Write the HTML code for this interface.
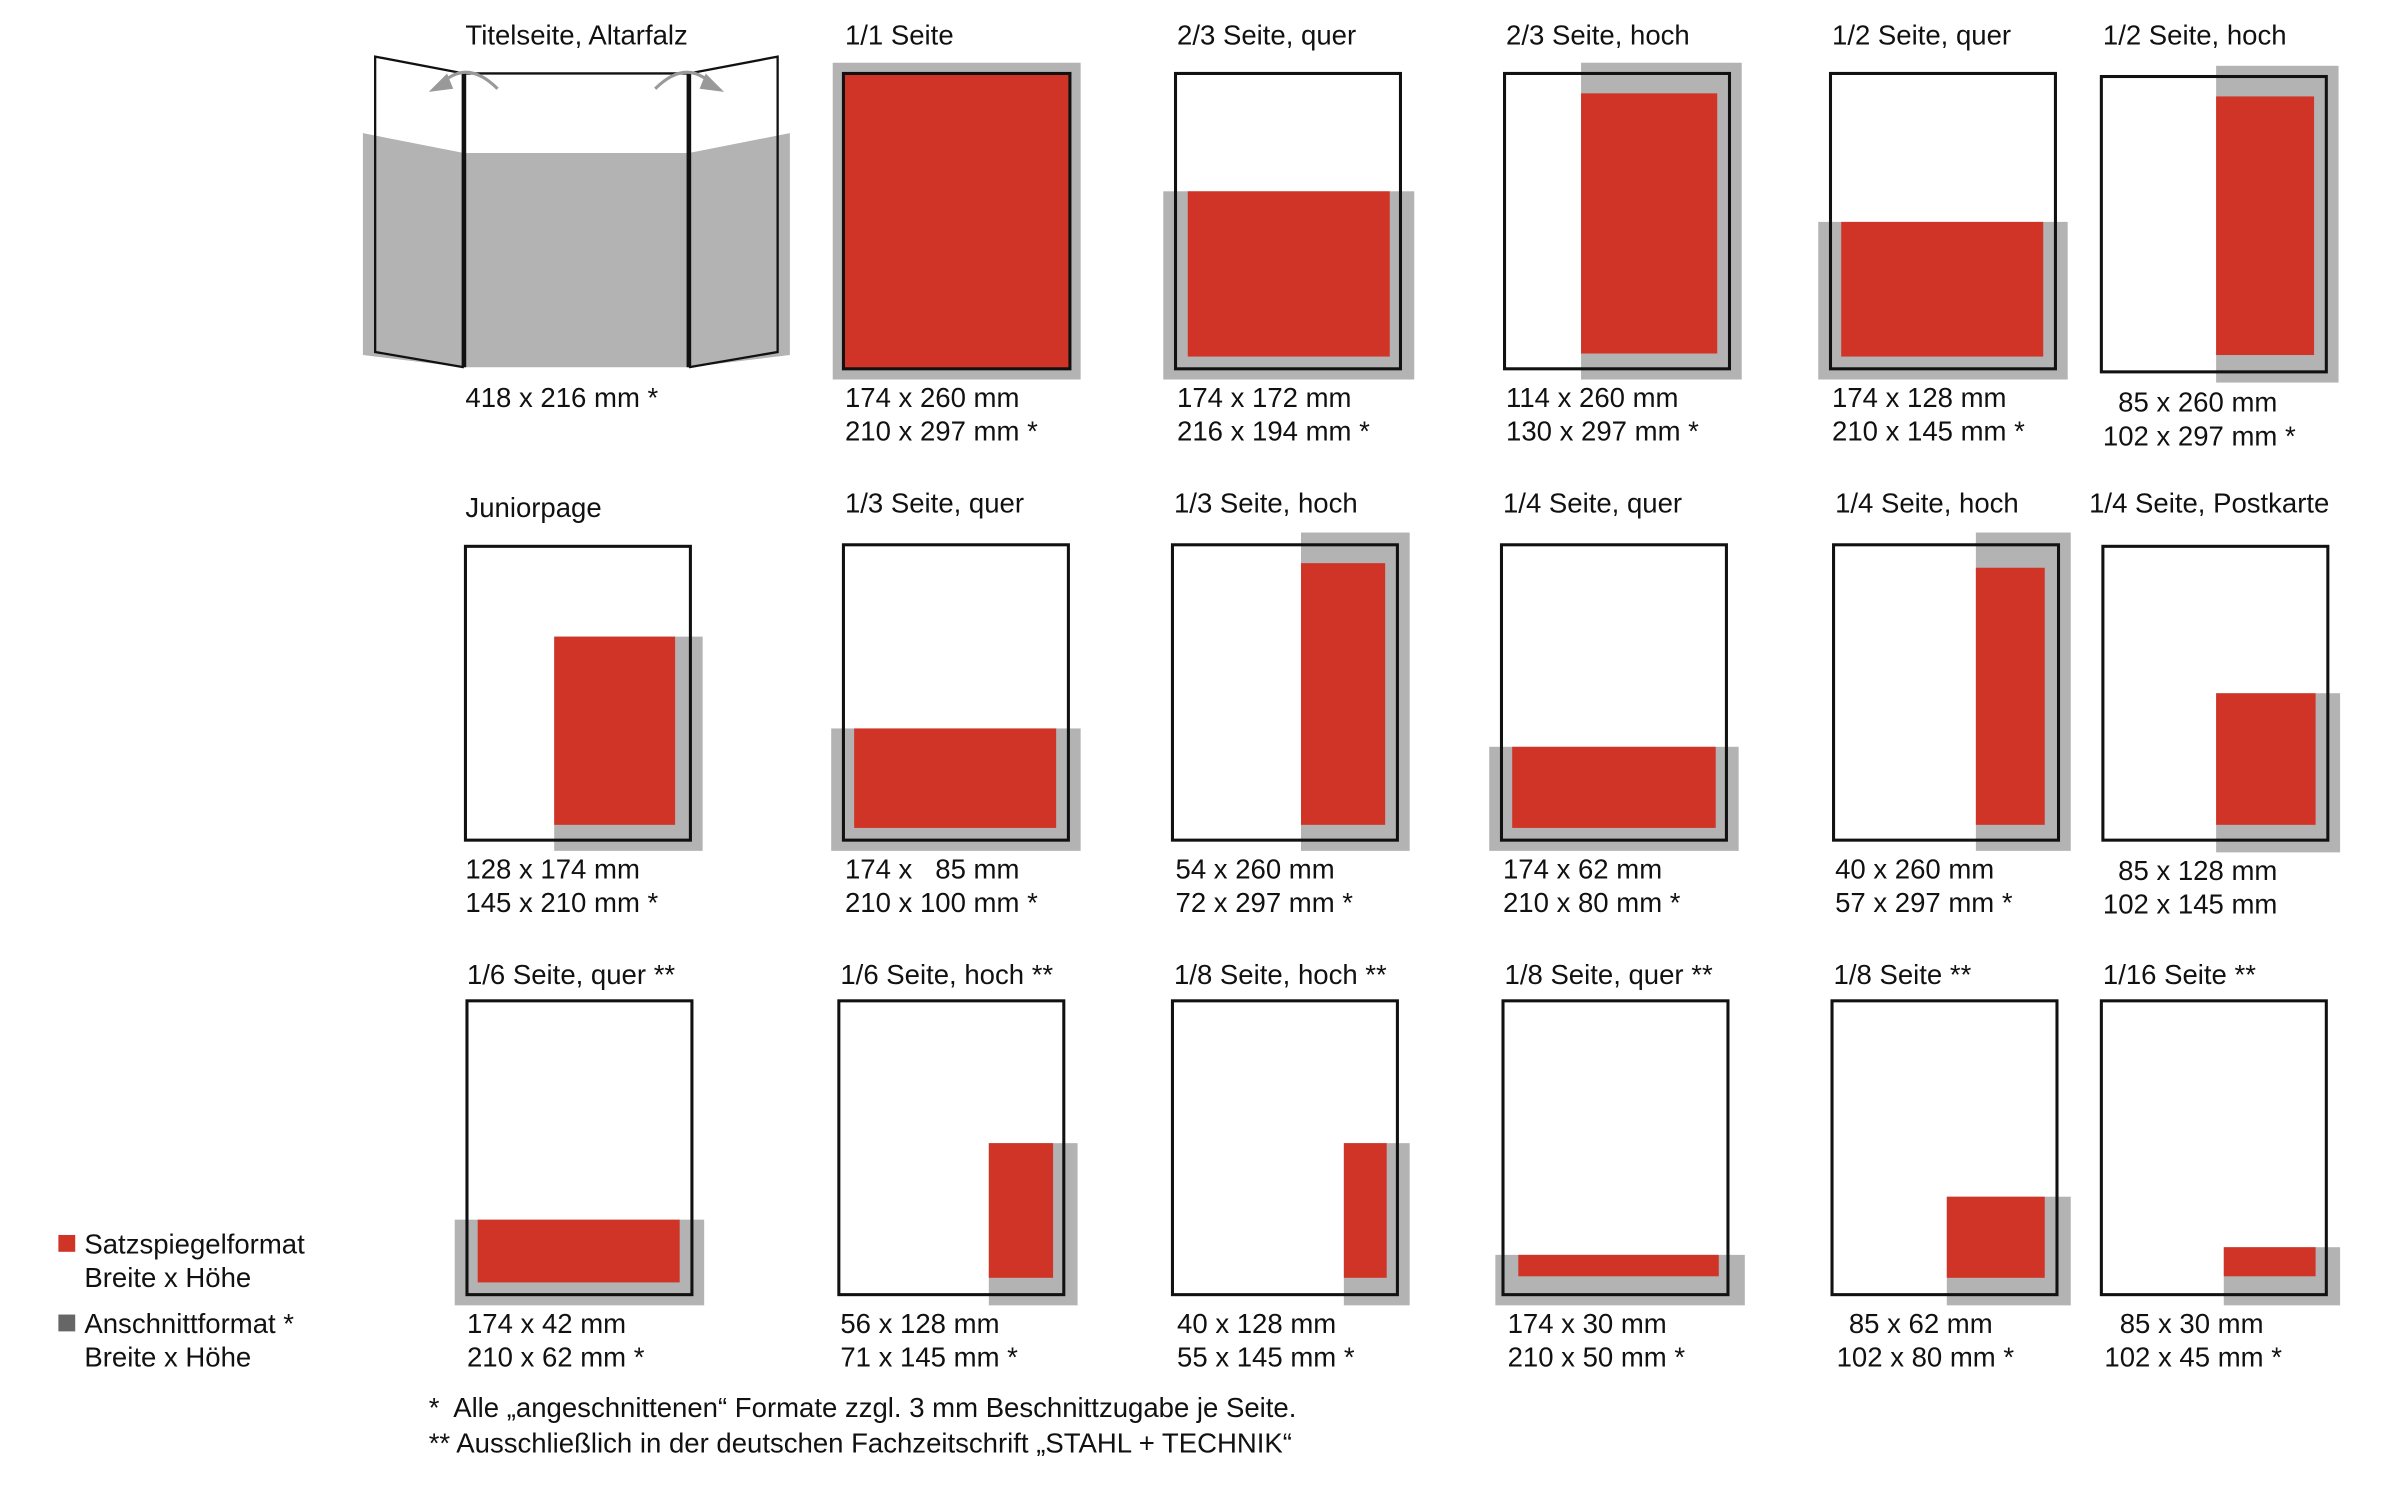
<!DOCTYPE html>
<html><head><meta charset="utf-8"><style>
html,body{margin:0;padding:0;background:#fff;}
svg{display:block;}
text{font-family:"Liberation Sans",sans-serif;font-size:18px;fill:#111;}
.g{fill:#b3b3b3;}
.r{fill:#cf3427;}
.p{fill:none;stroke:#111;stroke-width:2;}
</style></head><body>
<svg width="2400" height="1489" viewBox="0 0 1568 973" xmlns="http://www.w3.org/2000/svg">
<polygon class="g" points="237,87 303,100 450,100 516,87 516,232 450,240 303,240 237,232"/>
<polyline points="303,240 245,230 245,37 303,48 450,48 508,37 508,230 450,240" fill="none" stroke="#111" stroke-width="1.5"/>
<line x1="303" y1="48" x2="303" y2="240" stroke="#111" stroke-width="3"/>
<line x1="450" y1="48" x2="450" y2="240" stroke="#111" stroke-width="3"/>
<path d="M325,58 Q305,38 288,55" fill="none" stroke="#999" stroke-width="2"/>
<polygon points="280,60 292,48 296,58" fill="#999"/>
<path d="M428,58 Q448,38 465,55" fill="none" stroke="#999" stroke-width="2"/>
<polygon points="473,60 461,48 457,58" fill="#999"/>
<text x="304" y="29">Titelseite, Altarfalz</text>
<text x="304" y="266">418 x 216 mm *</text>

<rect class="g" x="544" y="41" width="162" height="207"/>
<rect class="r" x="551" y="48" width="148" height="193" stroke="#111" stroke-width="2"/>
<text x="552" y="29">1/1 Seite</text>
<text x="552" y="266">174 x 260 mm</text><text x="552" y="288">210 x 297 mm *</text>

<rect class="g" x="760" y="125" width="164" height="123"/>
<rect class="p" x="768" y="48" width="147" height="193"/>
<rect class="r" x="776" y="125" width="132" height="108"/>
<text x="769" y="29">2/3 Seite, quer</text>
<text x="769" y="266">174 x 172 mm</text><text x="769" y="288">216 x 194 mm *</text>

<rect class="g" x="1033" y="41" width="105" height="207"/>
<rect class="p" x="983" y="48" width="147" height="193"/>
<rect class="r" x="1033" y="61" width="89" height="170"/>
<text x="984" y="29">2/3 Seite, hoch</text>
<text x="984" y="266">114 x 260 mm</text><text x="984" y="288">130 x 297 mm *</text>

<rect class="g" x="1188" y="145" width="163" height="103"/>
<rect class="p" x="1196" y="48" width="147" height="193"/>
<rect class="r" x="1203" y="145" width="132" height="88"/>
<text x="1197" y="29">1/2 Seite, quer</text>
<text x="1197" y="266">174 x 128 mm</text><text x="1197" y="288">210 x 145 mm *</text>

<rect class="g" x="1448" y="43" width="80" height="207"/>
<rect class="p" x="1373" y="50" width="147" height="193"/>
<rect class="r" x="1448" y="63" width="64" height="169"/>
<text x="1374" y="29">1/2 Seite, hoch</text>
<text x="1384" y="269">85 x 260 mm</text><text x="1374" y="291">102 x 297 mm *</text>

<rect class="g" x="362" y="416" width="97" height="140"/>
<rect class="p" x="304" y="357" width="147" height="192"/>
<rect class="r" x="362" y="416" width="79" height="123"/>
<text x="304" y="338">Juniorpage</text>
<text x="304" y="574">128 x 174 mm</text><text x="304" y="596">145 x 210 mm *</text>

<rect class="g" x="543" y="476" width="163" height="80"/>
<rect class="p" x="551" y="356" width="147" height="193"/>
<rect class="r" x="558" y="476" width="132" height="65"/>
<text x="552" y="335">1/3 Seite, quer</text>
<text x="552" y="574">174 x &#160; 85 mm</text><text x="552" y="596">210 x 100 mm *</text>

<rect class="g" x="850" y="348" width="71" height="208"/>
<rect class="p" x="766" y="356" width="147" height="193"/>
<rect class="r" x="850" y="368" width="55" height="171"/>
<text x="767" y="335">1/3 Seite, hoch</text>
<text x="768" y="574">54 x 260 mm</text><text x="768" y="596">72 x 297 mm *</text>

<rect class="g" x="973" y="488" width="163" height="68"/>
<rect class="p" x="981" y="356" width="147" height="193"/>
<rect class="r" x="988" y="488" width="133" height="53"/>
<text x="982" y="335">1/4 Seite, quer</text>
<text x="982" y="574">174 x 62 mm</text><text x="982" y="596">210 x 80 mm *</text>

<rect class="g" x="1291" y="348" width="62" height="208"/>
<rect class="p" x="1198" y="356" width="147" height="193"/>
<rect class="r" x="1291" y="371" width="45" height="168"/>
<text x="1199" y="335">1/4 Seite, hoch</text>
<text x="1199" y="574">40 x 260 mm</text><text x="1199" y="596">57 x 297 mm *</text>

<rect class="g" x="1448" y="453" width="81" height="104"/>
<rect class="p" x="1374" y="357" width="147" height="192"/>
<rect class="r" x="1448" y="453" width="65" height="86"/>
<text x="1365" y="335">1/4 Seite, Postkarte</text>
<text x="1384" y="575">85 x 128 mm</text><text x="1374" y="597">102 x 145 mm</text>

<rect class="g" x="297" y="797" width="163" height="56"/>
<rect class="p" x="305" y="654" width="147" height="192"/>
<rect class="r" x="312" y="797" width="132" height="41"/>
<text x="305" y="643">1/6 Seite, quer **</text>
<text x="305" y="871">174 x 42 mm</text><text x="305" y="893">210 x 62 mm *</text>

<rect class="g" x="646" y="747" width="58" height="106"/>
<rect class="p" x="548" y="654" width="147" height="192"/>
<rect class="r" x="646" y="747" width="42" height="88"/>
<text x="549" y="643">1/6 Seite, hoch **</text>
<text x="549" y="871">56 x 128 mm</text><text x="549" y="893">71 x 145 mm *</text>

<rect class="g" x="878" y="747" width="43" height="106"/>
<rect class="p" x="766" y="654" width="147" height="192"/>
<rect class="r" x="878" y="747" width="28" height="88"/>
<text x="767" y="643">1/8 Seite, hoch **</text>
<text x="769" y="871">40 x 128 mm</text><text x="769" y="893">55 x 145 mm *</text>

<rect class="g" x="977" y="820" width="163" height="33"/>
<rect class="p" x="982" y="654" width="147" height="192"/>
<rect class="r" x="992" y="820" width="131" height="14"/>
<text x="983" y="643">1/8 Seite, quer **</text>
<text x="985" y="871">174 x 30 mm</text><text x="985" y="893">210 x 50 mm *</text>

<rect class="g" x="1272" y="782" width="81" height="71"/>
<rect class="p" x="1197" y="654" width="147" height="192"/>
<rect class="r" x="1272" y="782" width="64" height="53"/>
<text x="1198" y="643">1/8 Seite **</text>
<text x="1208" y="871">85 x 62 mm</text><text x="1200" y="893">102 x 80 mm *</text>

<rect class="g" x="1453" y="815" width="76" height="38"/>
<rect class="p" x="1373" y="654" width="147" height="192"/>
<rect class="r" x="1453" y="815" width="60" height="19"/>
<text x="1374" y="643">1/16 Seite **</text>
<text x="1385" y="871">85 x 30 mm</text><text x="1375" y="893">102 x 45 mm *</text>

<rect class="r" x="38" y="807" width="11" height="11"/>
<text x="55" y="819">Satzspiegelformat</text>
<text x="55" y="841">Breite x Höhe</text>
<rect x="38" y="859" width="11" height="11" fill="#666"/>
<text x="55" y="871">Anschnittformat *</text>
<text x="55" y="893">Breite x Höhe</text>

<text x="280" y="926">*&#160; Alle „angeschnittenen“ Formate zzgl. 3 mm Beschnittzugabe je Seite.</text>
<text x="280" y="949">** Ausschließlich in der deutschen Fachzeitschrift „STAHL + TECHNIK“</text>
</svg>
</body></html>
